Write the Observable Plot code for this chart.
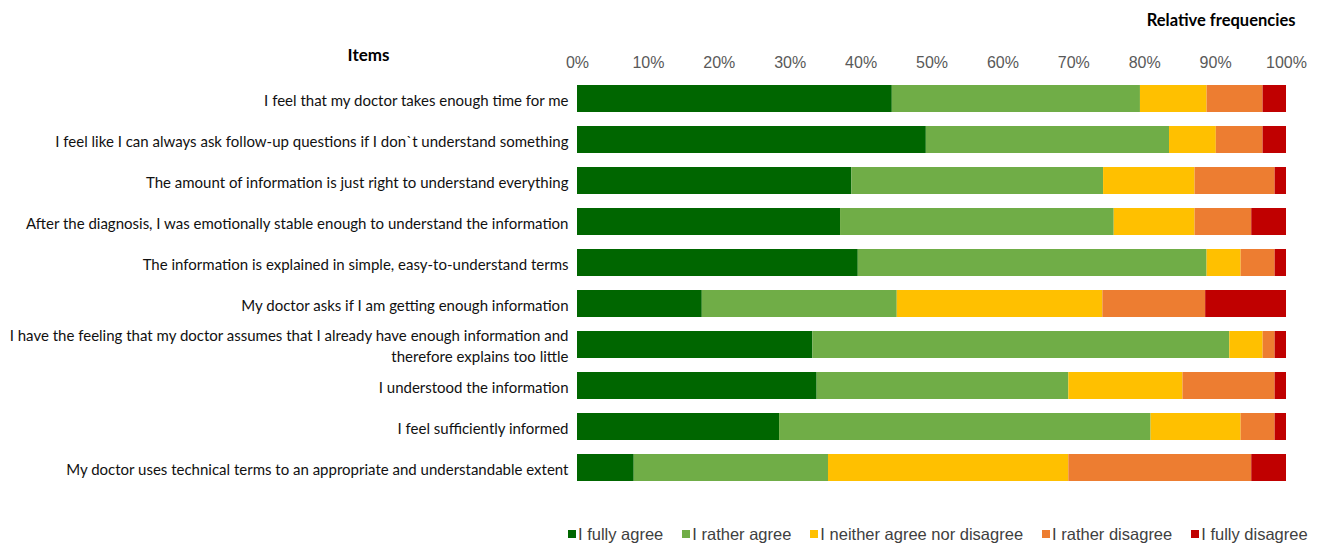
<!DOCTYPE html>
<html>
<head>
<meta charset="utf-8">
<script src="https://cdn.jsdelivr.net/npm/d3@7"></script>
<script src="https://cdn.jsdelivr.net/npm/@observablehq/plot@0.6"></script>
<style>
  html, body { margin: 0; padding: 0; background: #fff; }
  #chart { width: 1317px; height: 546px; position: relative; overflow: hidden; }
  #legend { position: absolute; left: 568px; top: 526px; display: flex; gap: 0; font-family: "Liberation Sans Narrow", "Arial Narrow", "Liberation Sans", sans-serif; font-stretch: condensed; font-size: 16.5px; line-height: 16px; color: #404040; }
  #legend .item { display: flex; align-items: center; margin-right: 19px; white-space: nowrap; }
  #legend .sw { width: 8px; height: 8px; margin-right: 2px; display: inline-block; }
</style>
</head>
<body>
<div id="chart"></div>
<script>
const items = [
  "I feel that my doctor takes enough time for me",
  "I feel like I can always ask follow-up questions if I don`t understand something",
  "The amount of information is just right to understand everything",
  "After the diagnosis, I was emotionally stable enough to understand the information",
  "The information is explained in simple, easy-to-understand terms",
  "My doctor asks if I am getting enough information",
  "I have the feeling that my doctor assumes that I already have enough information and\ntherefore explains too little",
  "I understood the information",
  "I feel sufficiently informed",
  "My doctor uses technical terms to an appropriate and understandable extent"
];
const categories = ["I fully agree", "I rather agree", "I neither agree nor disagree", "I rather disagree", "I fully disagree"];
const colors = ["#006600", "#70AD47", "#FFC000", "#ED7D31", "#C00000"];
const fullyAgree    = [44.4, 49.2, 38.7, 37.1, 39.6, 17.6, 33.2, 33.8, 28.5, 8.0];
const ratherAgree   = [35.0, 34.3, 35.5, 38.6, 49.2, 27.5, 58.8, 35.5, 52.4, 27.4];
const neither       = [9.4, 6.6, 12.9, 11.4, 4.8, 29.0, 4.7, 16.1, 12.7, 33.9];
const ratherDisagree= [7.9, 6.6, 11.3, 8.0, 4.8, 14.5, 1.7, 13.0, 4.8, 25.8];
const fullyDisagree = [3.3, 3.3, 1.6, 4.9, 1.6, 11.4, 1.6, 1.6, 1.6, 4.9];
const xTicks = [0, 10, 20, 30, 40, 50, 60, 70, 80, 90, 100];

const series = [fullyAgree, ratherAgree, neither, ratherDisagree, fullyDisagree];
const data = [];
items.forEach((it, i) => {
  series.forEach((s, k) => data.push({item: it, category: categories[k], value: s[i], order: k}));
});

const labelFont = "Lato, 'Open Sans', sans-serif";
const tickFont = "'Liberation Sans Narrow', 'Arial Narrow', 'Liberation Sans', sans-serif";

const svgHeight = 515;
const plot = Plot.plot({
  width: 1317,
  height: svgHeight,
  marginLeft: 577,
  marginRight: 31,
  marginTop: 75,
  marginBottom: svgHeight - 491,
  style: {fontFamily: labelFont, fontSize: "15px", color: "#111", background: "#fff"},
  x: {domain: [0, 100], ticks: xTicks},
  y: {domain: items, paddingInner: 0.35, paddingOuter: 0.175},
  color: {domain: categories, range: colors},
  marks: [
    Plot.gridX(xTicks, {stroke: "#d9d9d9", strokeOpacity: 1, strokeWidth: 1, y1: 73, y2: 490}),
    Plot.barX(data, Plot.stackX({x: "value", y: "item", fill: "category", order: "order"})),
    Plot.axisX(xTicks, {anchor: "top", tickSize: 0, tickPadding: 8, label: null, tickFormat: d => d + "%", fontSize: 16, fontFamily: tickFont, fill: "#595959", fontStretch: "condensed"}),
    Plot.axisY({tickSize: 0, tickPadding: 9, label: null, lineHeight: 1.4, fontSize: 15, fill: "#111"}),
    Plot.text(["Items"], {frameAnchor: "top-left", dx: 368 - 577, dy: 55 - 75, fontWeight: "bold", fontSize: 17, fill: "#000", textAnchor: "middle", lineAnchor: "middle"}),
    Plot.text(["Relative frequencies"], {frameAnchor: "top-right", dx: 1295 - 1286, dy: 20 - 75, fontWeight: "bold", fontSize: 16.5, fill: "#000", textAnchor: "end", lineAnchor: "middle"})
  ]
});
plot.style.overflow = "visible";
const chart = document.getElementById("chart");
chart.appendChild(plot);

const legend = document.createElement("div");
legend.id = "legend";
categories.forEach((c, i) => {
  const it = document.createElement("span");
  it.className = "item";
  const sw = document.createElement("span");
  sw.className = "sw";
  sw.style.background = colors[i];
  it.appendChild(sw);
  it.appendChild(document.createTextNode(c));
  legend.appendChild(it);
});
chart.appendChild(legend);
</script>
</body>
</html>
